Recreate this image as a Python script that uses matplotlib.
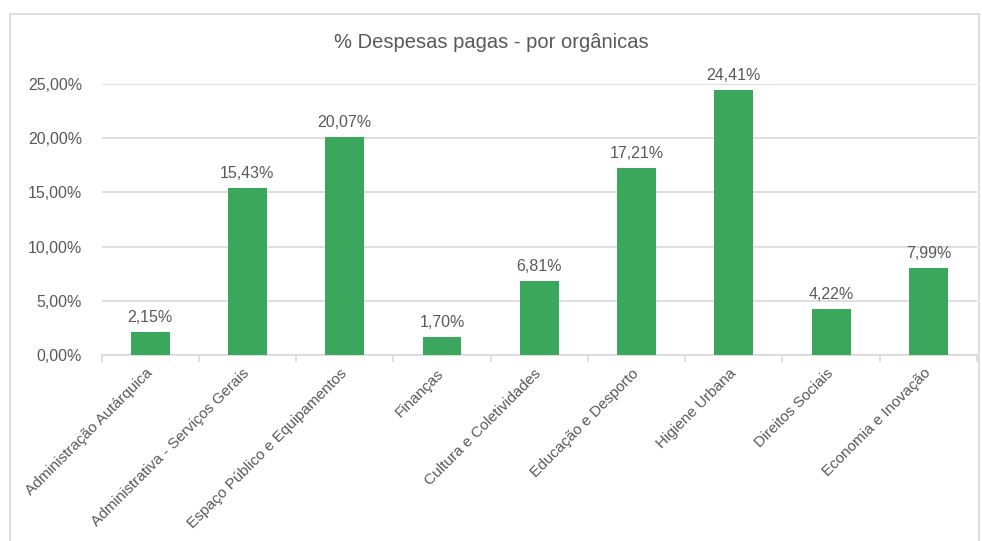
import matplotlib.pyplot as plt
from matplotlib.patches import Rectangle
from matplotlib.ticker import FixedLocator, FuncFormatter
from matplotlib.transforms import ScaledTranslation

plt.rcParams['font.family'] = ['Liberation Sans', 'DejaVu Sans']

categorias = ["Administração Autárquica", "Administrativa - Serviços Gerais",
              "Espaço Público e Equipamentos", "Finanças", "Cultura e Coletividades",
              "Educação e Desporto", "Higiene Urbana", "Direitos Sociais",
              "Economia e Inovação"]
valores = [2.15, 15.43, 20.07, 1.70, 6.81, 17.21, 24.41, 4.22, 7.99]
yticks = [0, 5, 10, 15, 20, 25]

cinza = "#595959"
grelha = "#d9d9d9"
verde = "#3aa75d"

fig = plt.figure(figsize=(9.82, 5.41), dpi=100)
# moldura do gráfico
fig.patches.append(Rectangle((10 / 982, -0.01), 969 / 982, 1 - 14 / 541 + 0.01,
                             transform=fig.transFigure, fill=False,
                             edgecolor=grelha, linewidth=1.2))

ax = fig.add_axes([101.5 / 982, 1 - 355 / 541, 875.5 / 982, 271 / 541])
x = list(range(len(categorias)))
bars = ax.bar(x, valores, width=0.4, color=verde, zorder=3)

for xi, v in zip(x, valores):
    ax.text(xi, v + 0.65, f"{v:.2f}%".replace(".", ","), ha="center", va="bottom",
            fontsize=11.5, color=cinza)

ax.set_xlim(-0.5, len(categorias) - 0.5)
ax.set_ylim(0, 25)
ax.set_yticks(yticks)
ax.yaxis.set_major_formatter(FuncFormatter(lambda v, p: f"{v:.2f}%".replace(".", ",")))
ax.tick_params(axis="y", length=0, labelsize=11.5, labelcolor=cinza, pad=14)
ax.grid(axis="y", color=grelha, linewidth=1.2, zorder=0)

ax.set_xticks(x)
ax.set_xticklabels(categorias, rotation=45, ha="right", rotation_mode="anchor",
                   fontsize=11, color=cinza)
ax.tick_params(axis="x", which="major", length=0, pad=8)
desloc = ScaledTranslation(-5 / 100, 0, fig.dpi_scale_trans)
for lbl in ax.get_xticklabels():
    lbl.set_transform(lbl.get_transform() + desloc)
ax.xaxis.set_minor_locator(FixedLocator([i - 0.5 for i in range(len(categorias) + 1)]))
ax.tick_params(axis="x", which="minor", length=5, color=grelha, width=1.2)

for s in ["top", "right", "left"]:
    ax.spines[s].set_visible(False)
ax.spines["bottom"].set_color(grelha)
ax.spines["bottom"].set_linewidth(1.2)

fig.text(0.5, 1 - 42 / 541, "% Despesas pagas - por orgânicas", ha="center", va="center",
         fontsize=14.5, color=cinza)

fig.savefig("out.png", dpi=100)
